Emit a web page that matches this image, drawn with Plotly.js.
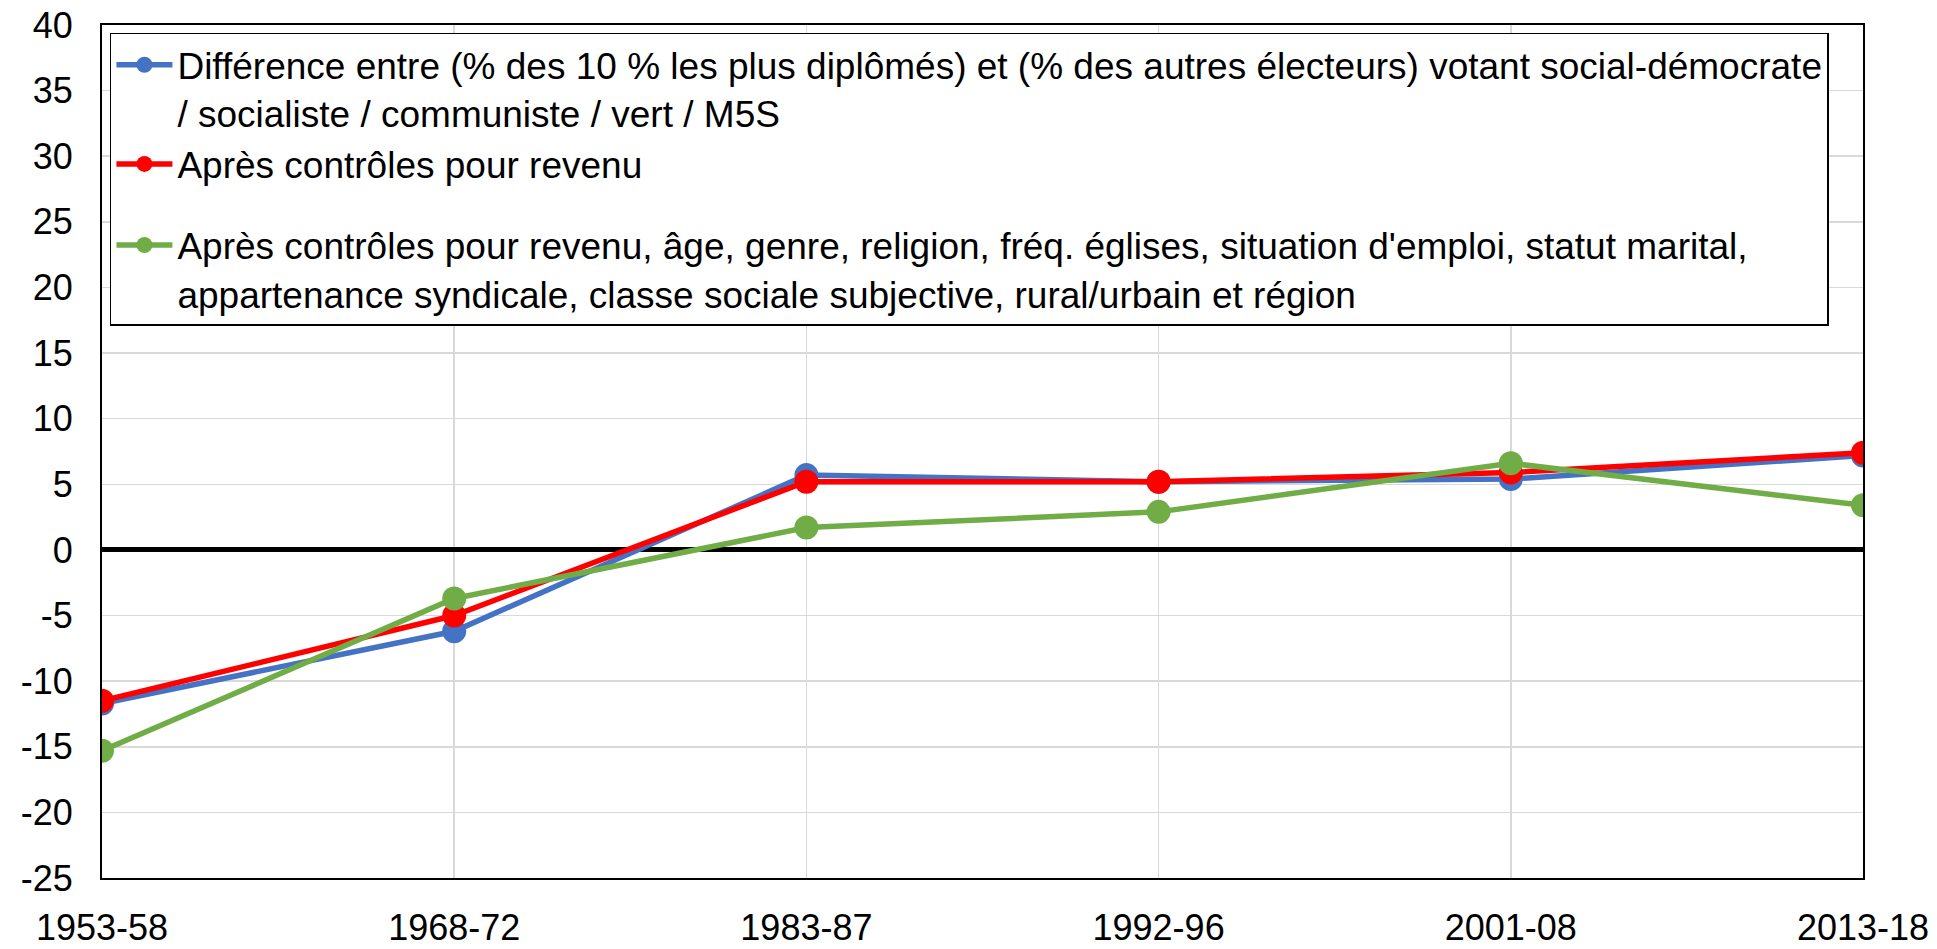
<!DOCTYPE html>
<html>
<head>
<meta charset="utf-8">
<script src="https://cdn.plot.ly/plotly-3.0.1.min.js"></script>
<style>html,body{margin:0;padding:0;background:#fff;}#chart{width:1937px;height:949px;}</style>
</head>
<body>
<div id="chart"></div>
<script>
const periods = ["1953-58", "1968-72", "1983-87", "1992-96", "2001-08", "2013-18"];
const diffRaw = [-11.7, -6.2, 5.7, 5.2, 5.4, 7.2];
const afterIncome = [-11.5, -5.0, 5.2, 5.2, 5.9, 7.4];
const afterAll = [-15.3, -3.7, 1.7, 2.9, 6.6, 3.4];
const yTickVals = [-25, -20, -15, -10, -5, 0, 5, 10, 15, 20, 25, 30, 35, 40];
const yTickText = ["-25", "-20", "-15", "-10", "-5", "0", "5", "10", "15", "20", "25", "30", "35", "40"];
const names = [
  "Différence entre (% des 10 % les plus diplômés) et (% des autres électeurs) votant social-démocrate<br>/ socialiste / communiste / vert / M5S",
  "Après contrôles pour revenu",
  "Après contrôles pour revenu, âge, genre, religion, fréq. églises, situation d'emploi, statut marital,<br>appartenance syndicale, classe sociale subjective, rural/urbain et région"
];
const groups = ["a", "a", "b"];
const colors = ["#4472C4", "#FF0000", "#70AD47"];
const seriesList = [diffRaw, afterIncome, afterAll];

const traces = seriesList.map((s, i) => ({
  type: "scatter",
  mode: "lines+markers",
  x: periods,
  y: s,
  name: names[i],
  legendgroup: groups[i],
  line: {color: colors[i], width: 5.5},
  marker: {color: colors[i], size: 24}
}));

const layout = {
  width: 1937,
  height: 949,
  margin: {l: 102, r: 74, t: 25, b: 71},
  paper_bgcolor: "#fff",
  plot_bgcolor: "#fff",
  font: {family: "Liberation Sans, Arial, sans-serif", size: 36, color: "#000"},
  showlegend: true,
  legend: {
    x: 0.0045, y: 0.991, xanchor: "left", yanchor: "top",
    bgcolor: "#fff", bordercolor: "#000", borderwidth: 1.5,
    font: {size: 37, color: "#000"},
    valign: "top",
    itemwidth: 56,
    traceorder: "grouped",
    tracegroupgap: 30
  },
  xaxis: {
    type: "category",
    range: [0, 5],
    showgrid: true,
    gridcolor: "#d9d9d9",
    gridwidth: 1.5,
    showline: true,
    linecolor: "#000",
    linewidth: 2,
    mirror: true,
    ticks: "",
    ticklabelstandoff: 17,
    zeroline: false
  },
  yaxis: {
    range: [-25, 40],
    tickmode: "array",
    tickvals: yTickVals,
    ticktext: yTickText,
    showgrid: true,
    gridcolor: "#d9d9d9",
    gridwidth: 1.5,
    showline: true,
    linecolor: "#000",
    linewidth: 2,
    mirror: true,
    ticks: "",
    ticklabelstandoff: 20,
    zeroline: true,
    zerolinecolor: "#000",
    zerolinewidth: 5
  }
};

Plotly.newPlot("chart", traces, layout, {displayModeBar: false, staticPlot: true});
</script>
</body>
</html>
